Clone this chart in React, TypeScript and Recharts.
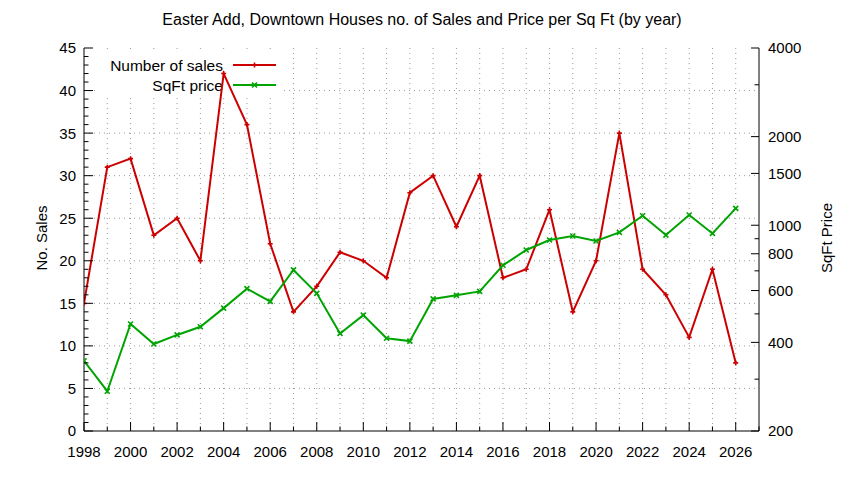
import { LineChart, Line, XAxis, YAxis, CartesianGrid } from 'recharts';

const years = [
  1998, 1999, 2000, 2001, 2002, 2003, 2004, 2005, 2006, 2007, 2008, 2009, 2010, 2011, 2012,
  2013, 2014, 2015, 2016, 2017, 2018, 2019, 2020, 2021, 2022, 2023, 2024, 2025, 2026,
];
const sales = [
  15, 31, 32, 23, 25, 20, 42, 36, 22, 14, 17, 21, 20, 18, 28,
  30, 24, 30, 18, 19, 26, 14, 20, 35, 19, 16, 11, 19, 8,
];
const sqftPrice = [
  346, 273, 462, 395, 424, 452, 523, 609, 551, 705, 587, 429, 495, 413, 404,
  562, 578, 596, 731, 824, 891, 919, 884, 946, 1077, 926, 1083, 938, 1141,
];

const yearTicks = [
  1998, 1999, 2000, 2001, 2002, 2003, 2004, 2005, 2006, 2007, 2008, 2009, 2010, 2011, 2012,
  2013, 2014, 2015, 2016, 2017, 2018, 2019, 2020, 2021, 2022, 2023, 2024, 2025, 2026, 2027,
];
const yearLabels = [
  1998, 2000, 2002, 2004, 2006, 2008, 2010, 2012, 2014, 2016, 2018, 2020, 2022, 2024, 2026,
];
const yearGrid = yearTicks.slice(1, -1);
const salesTicks = [
  0, 1, 2, 3, 4, 5, 6, 7, 8, 9, 10, 11, 12, 13, 14, 15, 16, 17, 18, 19, 20, 21, 22,
  23, 24, 25, 26, 27, 28, 29, 30, 31, 32, 33, 34, 35, 36, 37, 38, 39, 40, 41, 42, 43, 44, 45,
];
const salesLabels = [0, 5, 10, 15, 20, 25, 30, 35, 40, 45];
const salesGrid = [5, 10, 15, 20, 25, 30, 35, 40];
const priceTicks = [200, 300, 400, 500, 600, 700, 800, 900, 1000, 1500, 2000, 3000, 4000];
const priceLabels = [200, 400, 600, 800, 1000, 1500, 2000, 4000];

const data = years.map((year, i) => ({ year, sales: sales[i], price: sqftPrice[i] }));

const FONT = '"Liberation Sans", Arial, sans-serif';
const RED = '#cc0000';
const GREEN = '#00a400';

function YearTick({ x, y, payload }: any) {
  const v = payload.value;
  const major = v % 2 === 0;
  return (
    <g>
      <line x1={x} x2={x} y1={y} y2={y - (major ? 9 : 4.5)} stroke="#000" />
      {yearLabels.includes(v) && (
        <text x={x} y={y + 26} textAnchor="middle" fontSize={15} fontFamily={FONT} fill="#000">
          {v}
        </text>
      )}
    </g>
  );
}

function TopYearTick({ x, y, payload }: any) {
  const major = payload.value % 2 === 0;
  return <line x1={x} x2={x} y1={y} y2={y + (major ? 9 : 4.5)} stroke="#000" />;
}

function SalesTick({ x, y, payload }: any) {
  const v = payload.value;
  const major = salesLabels.includes(v);
  return (
    <g>
      <line x1={x} x2={x + (major ? 9 : 4.5)} y1={y} y2={y} stroke="#000" />
      {major && (
        <text x={x - 8} y={y} dy="0.36em" textAnchor="end" fontSize={15} fontFamily={FONT} fill="#000">
          {v}
        </text>
      )}
    </g>
  );
}

function PriceTick({ x, y, payload }: any) {
  const v = payload.value;
  const major = priceLabels.includes(v);
  return (
    <g>
      <line x1={x} x2={x - (major ? 8 : 4.5)} y1={y} y2={y} stroke="#000" />
      {major && (
        <text x={x + 9} y={y} dy="0.36em" textAnchor="start" fontSize={15} fontFamily={FONT} fill="#000">
          {v}
        </text>
      )}
    </g>
  );
}

function PlusDot({ cx, cy, index }: any) {
  return (
    <path
      key={`p-${index}`}
      d={`M${cx - 2.5},${cy}H${cx + 2.5}M${cx},${cy - 2.5}V${cy + 2.5}`}
      stroke={RED}
      strokeWidth={1.6}
    />
  );
}

function CrossDot({ cx, cy, index }: any) {
  return (
    <path
      key={`c-${index}`}
      d={`M${cx - 2.5},${cy - 2.5}L${cx + 2.5},${cy + 2.5}M${cx - 2.5},${cy + 2.5}L${cx + 2.5},${cy - 2.5}`}
      stroke={GREEN}
      strokeWidth={1.6}
    />
  );
}

const textStyle = { fontFamily: FONT, fontSize: 15, fill: '#000' };

export default function App() {
  return (
    <div style={{ position: 'absolute', left: 0, top: 0, width: 844, height: 480, background: '#fff' }}>
      <LineChart
        width={844}
        height={480}
        data={data}
        margin={{ top: 48, right: 25, bottom: 19, left: 24 }}
      >
        <CartesianGrid
          xAxisId="bottom"
          yAxisId="left"
          horizontalValues={salesGrid}
          verticalValues={yearGrid}
          stroke="#9a9a9a"
          strokeDasharray="1 4"
        />
        <XAxis
          xAxisId="bottom"
          dataKey="year"
          type="number"
          domain={[1998, 2027]}
          allowDataOverflow
          ticks={yearTicks}
          interval={0}
          height={30}
          tickSize={0}
          tickMargin={0}
          tickLine={false}
          axisLine={{ stroke: '#000' }}
          tick={<YearTick />}
        />
        <XAxis
          xAxisId="top"
          orientation="top"
          dataKey="year"
          type="number"
          domain={[1998, 2027]}
          allowDataOverflow
          ticks={yearTicks}
          interval={0}
          height={0}
          tickSize={0}
          tickMargin={0}
          tickLine={false}
          axisLine={{ stroke: '#000' }}
          tick={<TopYearTick />}
        />
        <YAxis
          yAxisId="left"
          domain={[0, 45]}
          allowDataOverflow
          ticks={salesTicks}
          interval={0}
          width={60}
          tickSize={0}
          tickMargin={0}
          tickLine={false}
          axisLine={{ stroke: '#000' }}
          tick={<SalesTick />}
        />
        <YAxis
          yAxisId="right"
          orientation="right"
          scale="log"
          domain={[200, 4000]}
          allowDataOverflow
          ticks={priceTicks}
          interval={0}
          width={60}
          tickSize={0}
          tickMargin={0}
          tickLine={false}
          axisLine={{ stroke: '#000' }}
          tick={<PriceTick />}
        />

        {/* key box, opaque like gnuplot's */}
        <rect x={98} y={49} width={185} height={47} fill="#fff" />
        <text x={223} y={65} dy="0.36em" textAnchor="end" {...textStyle} fontSize={15.5}>Number of sales</text>
        <text x={223} y={85} dy="0.36em" textAnchor="end" {...textStyle} fontSize={15.5}>SqFt price</text>
        <line x1={233} x2={276} y1={65} y2={65} stroke={RED} strokeWidth={2} />
        <PlusDot cx={254.5} cy={65} index="k1" />
        <line x1={233} x2={276} y1={85} y2={85} stroke={GREEN} strokeWidth={2} />
        <CrossDot cx={254.5} cy={85} index="k2" />

        <text x={422} y={19} dy="0.36em" textAnchor="middle" {...textStyle} fontSize={16}>
          Easter Add, Downtown Houses no. of Sales and Price per Sq Ft (by year)
        </text>
        <text transform="translate(42,238) rotate(-90)" dy="0.36em" textAnchor="middle" {...textStyle}>
          No. Sales
        </text>
        <text transform="translate(827,238) rotate(-90)" dy="0.36em" textAnchor="middle" {...textStyle}>
          SqFt Price
        </text>

        <Line
          xAxisId="bottom"
          yAxisId="left"
          type="linear"
          dataKey="sales"
          stroke={RED}
          strokeWidth={2}
          dot={<PlusDot />}
          activeDot={false}
          isAnimationActive={false}
        />
        <Line
          xAxisId="bottom"
          yAxisId="right"
          type="linear"
          dataKey="price"
          stroke={GREEN}
          strokeWidth={2}
          dot={<CrossDot />}
          activeDot={false}
          isAnimationActive={false}
        />
      </LineChart>
    </div>
  );
}
